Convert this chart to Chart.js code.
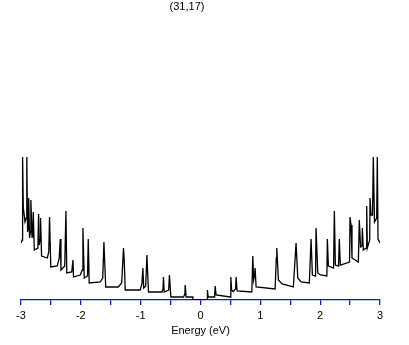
<!DOCTYPE html>
<html>
<head>
<meta charset="utf-8">
<script src="https://cdn.jsdelivr.net/npm/chart.js@4/dist/chart.umd.min.js"></script>
<style>
  html, body { margin: 0; padding: 0; background: #fff; }
  #wrap { width: 409px; height: 345px; }
</style>
</head>
<body>
<div id="wrap"><canvas id="myChart" width="409" height="345"></canvas></div>
<script>
// (31,17) nanotube density of states
const chartTitle = "(31,17)";
const xLabel = "Energy (eV)";

const energy = [
  -3.000, -2.983, -2.973, -2.962, -2.933, -2.912, -2.903, -2.890, -2.878, -2.872,
  -2.857, -2.842, -2.835, -2.816, -2.803, -2.795, -2.778, -2.718, -2.706, -2.695,
  -2.681, -2.673, -2.656, -2.561, -2.536, -2.523, -2.502, -2.394, -2.361, -2.344,
  -2.332, -2.269, -2.249, -2.235, -2.152, -2.132, -2.122, -2.010, -1.976, -1.965,
  -1.943, -1.888, -1.876, -1.860, -1.676, -1.634, -1.614, -1.609, -1.584, -1.375,
  -1.317, -1.287, -1.275, -1.258, -1.008, -0.979, -0.963, -0.949, -0.916, -0.896,
  -0.869, -0.645, -0.627, -0.619, -0.607, -0.532, -0.519, -0.495, -0.285, -0.261,
  -0.256, -0.240, -0.128, -0.128, 0.116,
  0.116, 0.128, 0.236, 0.245, 0.261, 0.495, 0.507, 0.520, 0.545, 0.587,
  0.595, 0.612, 0.858, 0.874, 0.888, 0.904, 0.913, 0.929, 1.247, 1.267,
  1.275, 1.302, 1.364, 1.552, 1.597, 1.626, 1.681, 1.819, 1.848, 1.870,
  1.923, 1.931, 1.960, 2.007, 2.112, 2.120, 2.137, 2.224, 2.237, 2.254,
  2.307, 2.320, 2.337, 2.491, 2.499, 2.516, 2.532, 2.638, 2.654, 2.675,
  2.699, 2.705, 2.721, 2.771, 2.778, 2.788, 2.828, 2.833, 2.850, 2.875,
  2.888, 2.908, 2.945, 2.955, 2.967, 3.000
];

const dos = [
  5.7, 6.0, 14.3, 9.3, 7.8, 8.2, 14.3, 6.8, 7.2, 10.2,
  6.2, 6.8, 10.0, 6.3, 7.0, 8.8, 5.0, 5.2, 8.6, 5.5,
  6.0, 8.2, 4.4, 4.2, 4.8, 8.3, 3.3, 3.4, 4.2, 6.1,
  3.0, 3.4, 8.9, 2.7, 2.8, 4.0, 2.3, 2.5, 3.0, 7.2,
  2.2, 2.4, 6.1, 1.7, 1.8, 2.2, 5.8, 5.0, 1.3, 1.3,
  1.7, 5.2, 4.0, 1.0, 1.0, 1.6, 3.2, 1.2, 1.4, 4.5,
  0.8, 0.8, 1.1, 2.3, 0.8, 1.0, 2.5, 0.3, 0.3, 0.6,
  1.5, 0.3, 0.3, 0.0, 0.0,
  1.0, 0.3, 0.3, 1.4, 0.5, 0.3, 2.3, 1.0, 0.85, 1.1,
  2.3, 0.9, 0.8, 4.4, 2.0, 2.5, 3.2, 1.3, 1.1, 4.2,
  5.2, 2.0, 1.6, 1.3, 5.7, 2.2, 1.8, 1.7, 6.1, 2.5,
  2.4, 7.2, 2.7, 2.5, 2.4, 6.1, 3.4, 3.2, 8.9, 3.5,
  3.4, 6.1, 3.5, 3.8, 8.3, 7.5, 4.2, 3.8, 8.0, 5.3,
  5.4, 7.2, 5.0, 5.2, 9.4, 5.2, 6.0, 10.2, 8.5, 8.5,
  14.3, 7.8, 8.2, 14.3, 6.1, 5.7
];

const xTicks = [-3, -2, -1, 0, 1, 2, 3];

var points = energy.map(function (e, i) {
  return { x: e, y: dos[i] };
});

const axisBlue = "#1414c8";
const fontFam = "'Liberation Sans', Arial, sans-serif";

// title is drawn a bit left of centre, like the original
const titlePlugin = {
  id: "topTitle",
  afterDraw: function (chart) {
    var ctx = chart.ctx;
    ctx.save();
    ctx.fillStyle = "#000";
    ctx.font = "11px " + fontFam;
    ctx.textAlign = "center";
    ctx.textBaseline = "middle";
    ctx.fillText(chartTitle, 187, 7);
    ctx.restore();
  }
};

const ctx = document.getElementById("myChart");
new Chart(ctx, {
  type: "line",
  data: {
    datasets: [{
      data: points,
      borderColor: "#000",
      borderWidth: 1.3,
      pointRadius: 0,
      tension: 0,
      fill: false
    }]
  },
  options: {
    responsive: false,
    animation: false,
    layout: { padding: { left: 21, right: 29, top: 20, bottom: 0 } },
    plugins: {
      legend: { display: false },
      tooltip: { enabled: false }
    },
    scales: {
      x: {
        type: "linear",
        min: -3,
        max: 3,
        afterFit: function (scale) { scale.height = 45; },
        border: { display: true, color: axisBlue, width: 1.3 },
        grid: { drawOnChartArea: false, drawTicks: true, tickLength: 5, color: axisBlue, lineWidth: 1.3 },
        ticks: {
          stepSize: 0.5,
          padding: 4,
          color: "#000",
          maxRotation: 0,
          autoSkip: false,
          font: { family: fontFam, size: 11 },
          callback: function (v) {
            return xTicks.indexOf(v) >= 0 ? String(v) : "";
          }
        },
        title: {
          display: true,
          text: xLabel,
          color: "#000",
          padding: { top: 7, bottom: 7 },
          font: { family: fontFam, size: 11 }
        }
      },
      y: {
        display: false,
        min: 0,
        max: 28
      }
    }
  },
  plugins: [titlePlugin]
});
</script>
</body>
</html>
